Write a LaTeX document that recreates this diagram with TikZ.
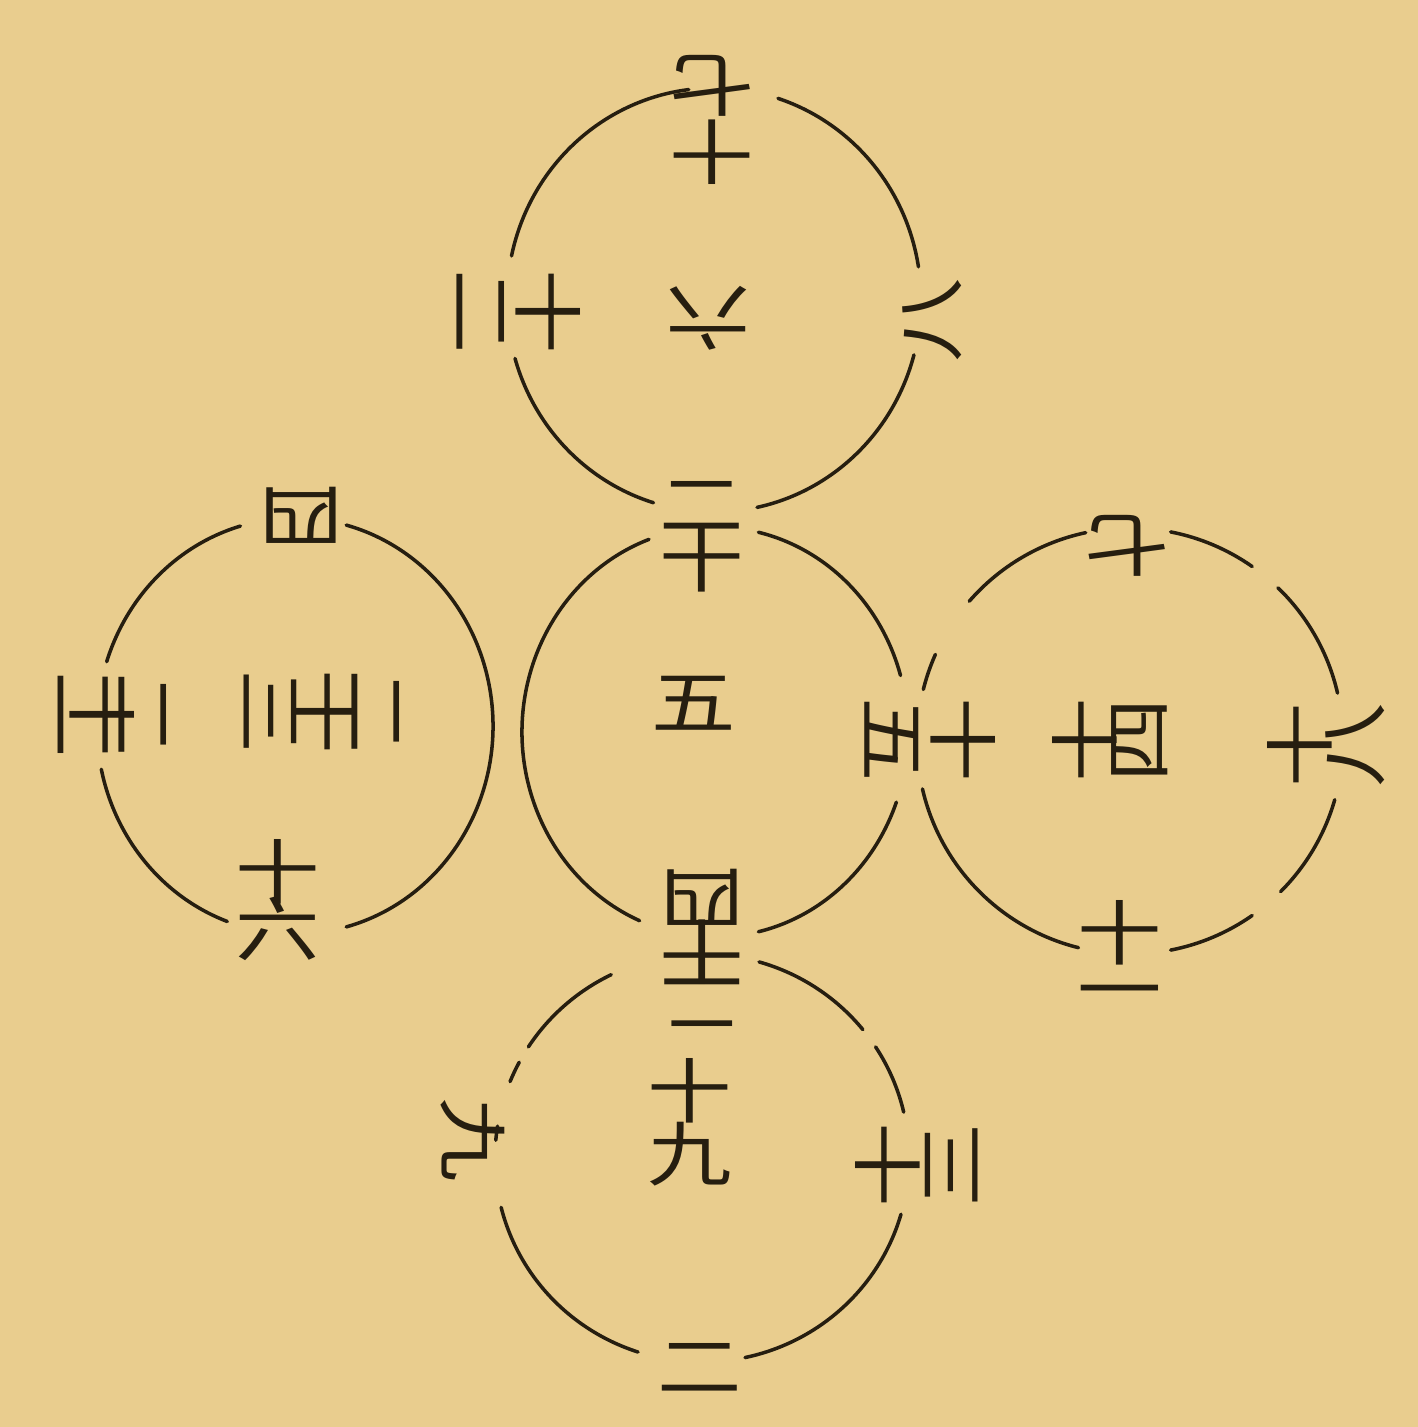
\documentclass[tikz,border=0pt]{standalone}
\usepackage{fontspec}
\newfontfamily\cjk{Noto Sans CJK SC}
\definecolor{paper}{RGB}{233,205,142}
\definecolor{ink}{RGB}{38,30,16}

\begin{document}
\begin{tikzpicture}[
        x=0.01cm, y=0.01cm,
        a/.style={draw=ink, line width=1pt, line cap=round},
        num/.style={text=ink, inner sep=0pt, align=center, xscale=1.2,
            font={\cjk\fontsize{20}{#1}\selectfont\lineskiplimit=-50pt}},
        num/.default=19pt
    ]

    \path[fill=paper, use as bounding box] (0,0) rectangle (1418,-1427);

    % circle centres
    \coordinate (T) at (714,-300);
    \coordinate (L) at (295,-726);
    \coordinate (C) at (715,-732);
    \coordinate (R) at (1130,-741);
    \coordinate (B) at (702,-1158);

    % broken rims
    \foreach \s/\e in {97/168,196/253,282/345,9/72}
        \draw[a] (T) ++(\s:207 and 212) arc[start angle=\s, end angle=\e, x radius=207, y radius=212];
    \foreach \s/\e in {106/162,192/250,285/435}
        \draw[a] (L) ++(\s:198 and 208) arc[start angle=\s, end angle=\e, x radius=198, y radius=208];
    \foreach \s/\e in {110/247,283/340,16/77}
        \draw[a] (C) ++(\s:193 and 205) arc[start angle=\s, end angle=\e, x radius=193, y radius=205];
    \foreach \s/\e in {102/139,156/166,193/256,281/305,315/344,13/46,55/79}
        \draw[a] (R) ++(\s:213 and 213) arc[start angle=\s, end angle=\e, x radius=213, y radius=213];
    \foreach \s/\e in {116/147,152/158,171/175,194/252,282/344,13/33,39/74}
        \draw[a] (B) ++(\s:207 and 204) arc[start angle=\s, end angle=\e, x radius=207, y radius=204];

    % top circle
    \node[rotate=180, num=19pt] (n17) at (712,-120) {十\\七};
    \node[rotate=-90, num=19pt] (n12) at (518,-312) {十\\二};
    \node[rotate=180, num] (n6) at (708,-318) {六};
    \node[rotate=90, num] (n8) at (932,-320) {八};
    \node[num=16pt] (n20) at (702,-537) {二\\十};

    % left circle
    \node[rotate=180, num] (n4) at (301,-515) {四};
    \node[rotate=-90, num=12pt] (n21) at (100,-715) {二\\十\\一};
    \node[rotate=-90, num=15pt] (n23) at (322,-712) {二\\十\\三};
    \node[num=16pt] (n16) at (278,-900) {十\\六};

    % middle circle
    \node[num] (n5) at (694,-703) {五};
    \node[rotate=-90, num=20pt] (n15) at (930,-740) {十\\五};
    \node[rotate=180, num=15pt] (n24) at (702,-948) {二\\十\\四};

    % right circle
    \node[rotate=180, num] (n7) at (1127,-546) {七};
    \node[rotate=90, num=15pt] (n14) at (1110,-740) {十\\四};
    \node[rotate=90, num=15pt] (n18) at (1326,-745) {十\\八};
    \node[num=16pt] (n11) at (1120,-958) {十\\一};

    % bottom circle
    \node[num=18pt] (n19) at (690,-1122) {十\\九};
    \node[rotate=-90, num] (n9) at (473,-1140) {九};
    \node[rotate=90, num=18pt] (n13) at (917,-1165) {十\\三};
    \node[num] (n2) at (700,-1368) {二};

\end{tikzpicture}
\end{document}
